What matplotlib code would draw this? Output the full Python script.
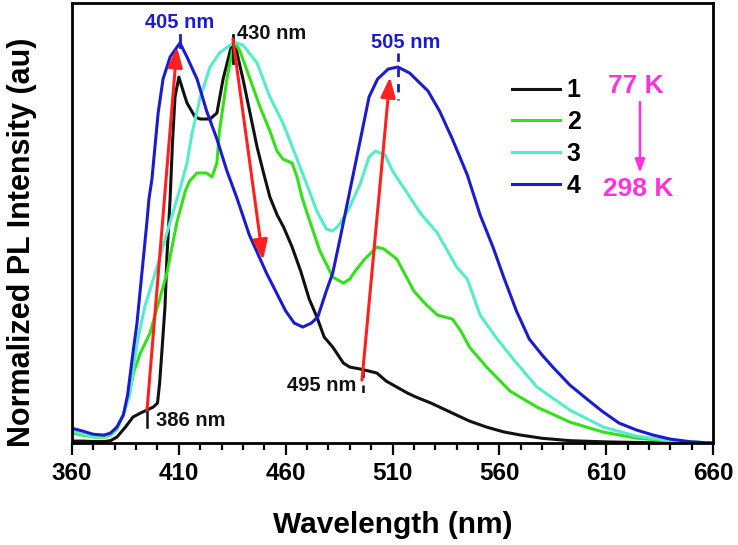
import numpy as np
import matplotlib
matplotlib.use("Agg")
import matplotlib.pyplot as plt

plt.rcParams['font.family'] = ['Liberation Sans', 'DejaVu Sans']
plt.rcParams['font.weight'] = 'bold'

# curve 1 (77 K)
wl_1 = [360, 365, 370, 375, 378, 381, 385, 388.5, 392, 395, 398, 400, 401, 402,
        403.5, 404.4, 405.9, 407, 408.2, 410, 412, 413.8, 417.6, 420, 424.6,
        427.8, 430.7, 434, 435.3, 437, 440, 443.3, 446.6, 449.4, 452.6, 456,
        459, 463, 467, 471, 474.6, 478, 482, 487, 490, 495, 499, 502.7, 507,
        512, 517, 521, 528, 538, 546, 554, 562, 570, 580, 593, 610, 630, 660]
pl_1 = [0.005, 0.005, 0.004, 0.004, 0.006, 0.015, 0.04, 0.065, 0.075, 0.0825,
        0.09, 0.1, 0.15, 0.225, 0.34, 0.465, 0.61, 0.75, 0.865, 0.915, 0.88,
        0.85, 0.815, 0.81, 0.81, 0.825, 0.91, 0.98, 1.0, 0.98, 0.91, 0.825,
        0.74, 0.68, 0.615, 0.57, 0.54, 0.49, 0.43, 0.36, 0.315, 0.265, 0.24,
        0.2, 0.19, 0.185, 0.18, 0.175, 0.155, 0.14, 0.125, 0.115, 0.1, 0.075,
        0.055, 0.04, 0.028, 0.02, 0.012, 0.006, 0.003, 0.001, 0.0]

# curve 2
wl_2 = [360, 365, 370, 375, 378, 381, 384, 387, 389, 392, 396.5, 401, 404.4,
        409, 413, 415, 418.5, 423, 425.5, 427.8, 429, 432.5, 435, 436.5, 438.6,
        443.3, 448, 452.6, 455.9, 458.7, 463, 465.3, 467.6, 470, 476, 482, 487,
        490, 492.5, 497, 502.7, 506, 512, 517, 520, 525, 531, 538, 542, 546,
        554, 565, 577.6, 593, 608.6, 624, 640, 660]
pl_2 = [0.025, 0.02, 0.015, 0.015, 0.02, 0.035, 0.07, 0.13, 0.18, 0.225, 0.275,
        0.36, 0.425, 0.55, 0.63, 0.655, 0.675, 0.675, 0.665, 0.7, 0.78, 0.91,
        0.98, 1.0, 0.98, 0.91, 0.84, 0.78, 0.73, 0.71, 0.70, 0.665, 0.615,
        0.575, 0.48, 0.415, 0.40, 0.41, 0.43, 0.46, 0.49, 0.485, 0.46, 0.41,
        0.38, 0.35, 0.32, 0.31, 0.28, 0.24, 0.19, 0.13, 0.09, 0.0525, 0.0275,
        0.0125, 0.005, 0.0]

# curve 3
wl_3 = [360, 365, 370, 375, 378, 381, 384, 387, 389, 391, 394, 399.8, 404.4,
        408, 410.5, 413.8, 416, 420, 424.6, 429, 434, 437, 440, 446.6, 452.6,
        458.7, 465.3, 471.4, 474.6, 479, 482, 485, 490, 495, 499, 502, 506.5,
        510, 515, 523, 531, 540, 545, 551, 559, 566.5, 577.6, 593, 608.6, 624,
        640, 660]
pl_3 = [0.03, 0.022, 0.016, 0.016, 0.022, 0.038, 0.07, 0.12, 0.2, 0.265, 0.34,
        0.44, 0.525, 0.59, 0.635, 0.7, 0.77, 0.865, 0.94, 0.975, 0.995, 1.0,
        0.995, 0.95, 0.865, 0.8, 0.71, 0.625, 0.58, 0.535, 0.53, 0.545, 0.59,
        0.65, 0.715, 0.73, 0.72, 0.68, 0.64, 0.575, 0.525, 0.44, 0.41, 0.32,
        0.26, 0.21, 0.14, 0.0825, 0.04, 0.0175, 0.006, 0.0]

# curve 4 (298 K)
wl_4 = [360, 365, 370, 375, 378, 381, 384, 386, 388.5, 390.4, 392.7, 395, 396,
        397.4, 398.8, 400.3, 402.6, 405.9, 410.5, 413.8, 418.5, 423, 427.8,
        432.5, 437, 443, 451, 460, 464, 468, 472, 475, 479, 482, 485.4, 490,
        495, 499, 503, 508, 512.5, 518, 526.6, 532, 538, 545, 551, 557, 562,
        568, 574, 580, 585, 593, 601, 608, 616, 624, 632, 640, 650, 660]
pl_4 = [0.037, 0.03, 0.022, 0.02, 0.025, 0.04, 0.07, 0.12, 0.225, 0.3, 0.425,
        0.55, 0.61, 0.66, 0.74, 0.825, 0.91, 0.965, 1.0, 0.965, 0.91, 0.83,
        0.76, 0.68, 0.615, 0.52, 0.425, 0.33, 0.30, 0.29, 0.30, 0.315, 0.38,
        0.425, 0.51, 0.63, 0.76, 0.865, 0.91, 0.935, 0.94, 0.925, 0.88, 0.83,
        0.76, 0.67, 0.57, 0.49, 0.415, 0.33, 0.26, 0.22, 0.19, 0.145, 0.11,
        0.08, 0.05, 0.033, 0.02, 0.01, 0.003, 0.0]

labels = ['1', '2', '3', '4']
colors = ['#111111', '#33e01a', '#55ecc8', '#1c1ccc']

xticks = [360, 410, 460, 510, 560, 610, 660]

fig = plt.figure(figsize=(7.38, 5.45), dpi=100)
ax = fig.add_axes([0.0976, 0.187, 0.8686, 0.8075])

for wl, pl, lab, c in zip([wl_1, wl_2, wl_3, wl_4], [pl_1, pl_2, pl_3, pl_4],
                          labels, colors):
    ax.plot(wl, pl, color=c, lw=2.2, label=lab)

ax.set_xlim(360, 660)
ax.set_ylim(0, 1.1)
ax.set_xticks(xticks)
ax.set_xticks(np.arange(360, 661, 10), minor=True)
ax.set_yticks([])
ax.tick_params(axis='x', which='major', direction='out', length=8.5, width=1.6,
               labelsize=17.5, pad=5)
ax.tick_params(axis='x', which='minor', direction='out', length=5, width=1.6)
for s in ax.spines.values():
    s.set_linewidth(2.0)

ax.set_xlabel('Wavelength (nm)', fontsize=21.5, fontweight='bold')
ax.set_ylabel('Normalized PL Intensity (au)', fontsize=22, fontweight='bold')
ax.xaxis.set_label_coords(0.5, -0.155)
ax.yaxis.set_label_coords(-0.055, 0.456)

# red arrows
red = '#ff2020'
arrows = [((395.1, 0.0825), (409.1, 0.99)),
          ((435.3, 1.01), (449.4, 0.4575)),
          ((495.7, 0.1575), (508.8, 0.915))]
for start, end in arrows:
    ax.annotate('', xy=end, xytext=start,
                arrowprops=dict(arrowstyle='-|>,head_length=0.6,head_width=0.22',
                                color=red, lw=2.2, mutation_scale=20,
                                shrinkA=0, shrinkB=0))

# peak markers
ax.plot([410.5, 410.5], [1.02, 0.99], color='#1c1ccc', lw=2)
ax.plot([435.3, 435.3], [1.02, 0.95], color='#111111', lw=2)
ax.plot([512.5, 512.5], [0.975, 0.8575], color='#1c1ccc', lw=2, ls=(0, (3, 2.5)))
ax.plot([496.2, 496.2], [0.1825, 0.1075], color='#111111', lw=1.8, ls=(0, (3, 3)))
ax.plot([395.1, 395.1], [0.0825, 0.04], color='#111111', lw=1.8)

ax.text(410.5, 1.0525, '405 nm', color='#1c1ccc', fontsize=14.5, ha='center', va='center')
ax.text(437.2, 1.025, '430 nm', color='#111111', fontsize=14.5, ha='left', va='center')
ax.text(516.3, 1.0025, '505 nm', color='#1c1ccc', fontsize=14.5, ha='center', va='center')
ax.text(477, 0.145, '495 nm', color='#111111', fontsize=14.5, ha='center', va='center')
ax.text(415.7, 0.0575, '386 nm', color='#111111', fontsize=14.5, ha='center', va='center')

magenta = '#ff33dd'
ax.text(623.9, 0.8925, '77 K', color=magenta, fontsize=19, ha='center', va='center')
ax.text(624.9, 0.635, '298 K', color=magenta, fontsize=19, ha='center', va='center')
ax.annotate('', xy=(625.8, 0.675), xytext=(625.8, 0.8525),
            arrowprops=dict(arrowstyle='-|>,head_length=0.5,head_width=0.18',
                            color=magenta, lw=1.8, mutation_scale=16,
                            shrinkA=0, shrinkB=0))

ax.legend(loc='upper left', bbox_to_anchor=(0.686, 0.829), frameon=False,
          fontsize=18, handlelength=1.92, handletextpad=0.28, labelspacing=0.31,
          borderpad=0, borderaxespad=0)

fig.savefig('out.png', dpi=100)
